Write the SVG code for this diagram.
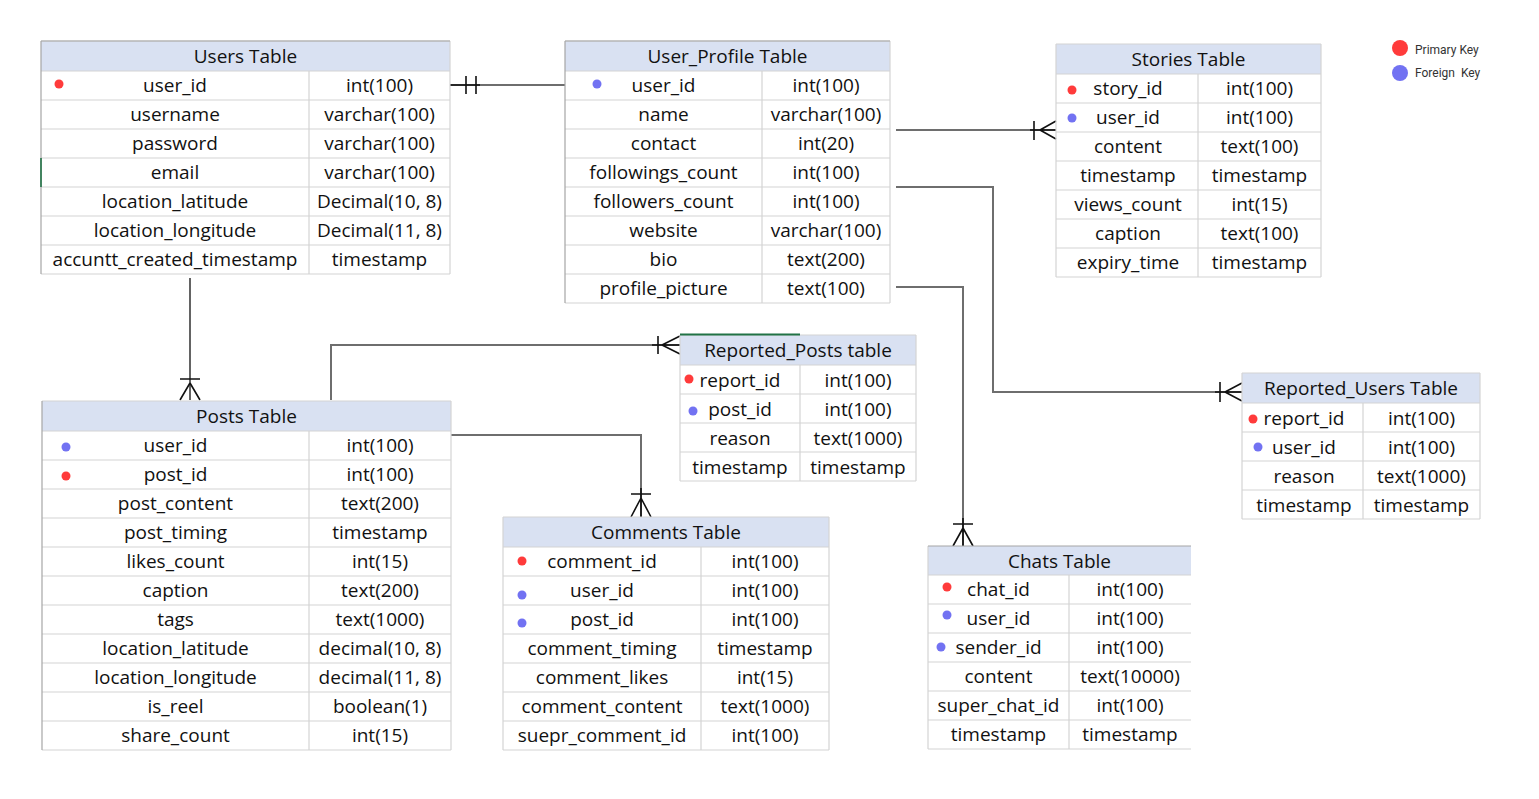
<svg xmlns="http://www.w3.org/2000/svg" width="1539" height="799" viewBox="0 0 1539 799">
<style>
.bg{fill:#ffffff}
.hd{fill:#D9E1F2}
.grid{stroke:#D4D4D4;stroke-width:1.2;fill:none}
.edge{stroke:#A6A6A6;stroke-width:1.2;fill:none}
.t{font-family:"Open Sans","Liberation Sans",sans-serif;font-size:19px;fill:#111;text-anchor:middle}
.h{font-family:"Open Sans","Liberation Sans",sans-serif;font-size:19px;fill:#111;text-anchor:middle}
.pk{fill:#FF3B3B}
.fk{fill:#7272F2}
.conn{stroke:#6E6E6E;stroke-width:2;fill:none}
.connd{stroke:#222;stroke-width:1.4;fill:none}
.mk{stroke:#111;stroke-width:1.6;fill:none}
.lg{font-family:Roboto,"Liberation Sans",sans-serif;font-size:12px;fill:#333}
</style>
<rect class="bg" x="0" y="0" width="1539" height="799"/>

<g id="connectors">
  <path class="conn" d="M450,85 H565"/>
  <path class="mk" d="M466,76 V94 M476,76 V94 M450,85 H480"/>
  <path class="conn" d="M896,130 H1056"/>
  <path class="mk" d="M1034,121 V140 M1040,130 L1056,121 M1040,130 L1056,139 M1030,130 H1056"/>
  <path class="conn" d="M896,187 H993 V392 H1242"/>
  <path class="mk" d="M1220,382 V402 M1225,392 L1242,383 M1225,392 L1242,401 M1215,392 H1242"/>
  <path class="conn" d="M896,287 H963 V546"/>
  <path class="mk" d="M953,524 H973 M963,528 L953,546 M963,528 L973,546 M963,518 V546"/>
  <path class="connd" d="M190,278 V400"/>
  <path class="mk" d="M180,379 H200 M190,383 L180,400 M190,383 L200,400"/>
  <path class="conn" d="M331,400 V345 H680"/>
  <path class="mk" d="M658,336 V354 M662,345 L680,336 M662,345 L680,354 M652,345 H680"/>
  <path class="conn" d="M451,435 H641 V517"/>
  <path class="mk" d="M631,494 H651 M641,498 L631,517 M641,498 L651,517 M641,488 V517"/>
</g>

<g id="users-table">
  <rect class="hd" x="41" y="41" width="409" height="30"/>
  <path class="grid" d="M41,41 H450 M41,71 H450 M41,100 H450 M41,129 H450 M41,158 H450 M41,187 H450 M41,216 H450 M41,245 H450 M41,274 H450 M309,71 V274 M450,41 V274"/>
  <path class="edge" d="M41,41 V274 M41,41 H450"/>
  <path d="M41,158 V187" stroke="#217346" stroke-width="1.6"/>
  <text class="h" x="245.5" y="63">Users Table</text>
  <circle class="pk" cx="59" cy="84" r="4.5"/>
  <text class="t" x="175" y="92">user_id</text><text class="t" x="379.5" y="92">int(100)</text>
  <text class="t" x="175" y="121">username</text><text class="t" x="379.5" y="121">varchar(100)</text>
  <text class="t" x="175" y="150">password</text><text class="t" x="379.5" y="150">varchar(100)</text>
  <text class="t" x="175" y="179">email</text><text class="t" x="379.5" y="179">varchar(100)</text>
  <text class="t" x="175" y="208">location_latitude</text><text class="t" x="379.5" y="208">Decimal(10, 8)</text>
  <text class="t" x="175" y="237">location_longitude</text><text class="t" x="379.5" y="237">Decimal(11, 8)</text>
  <text class="t" x="175" y="266">accuntt_created_timestamp</text><text class="t" x="379.5" y="266">timestamp</text>
</g>

<g id="user-profile-table">
  <rect class="hd" x="565" y="41" width="325" height="30"/>
  <path class="grid" d="M565,41 H890 M565,71 H890 M565,100 H890 M565,129 H890 M565,158 H890 M565,187 H890 M565,216 H890 M565,245 H890 M565,274 H890 M565,303 H890 M762,71 V303 M890,41 V303"/>
  <path class="edge" d="M565,41 V303 M565,41 H890"/>
  <text class="h" x="727.5" y="63">User_Profile Table</text>
  <circle class="fk" cx="597" cy="84" r="4.5"/>
  <text class="t" x="663.5" y="92">user_id</text><text class="t" x="826" y="92">int(100)</text>
  <text class="t" x="663.5" y="121">name</text><text class="t" x="826" y="121">varchar(100)</text>
  <text class="t" x="663.5" y="150">contact</text><text class="t" x="826" y="150">int(20)</text>
  <text class="t" x="663.5" y="179">followings_count</text><text class="t" x="826" y="179">int(100)</text>
  <text class="t" x="663.5" y="208">followers_count</text><text class="t" x="826" y="208">int(100)</text>
  <text class="t" x="663.5" y="237">website</text><text class="t" x="826" y="237">varchar(100)</text>
  <text class="t" x="663.5" y="266">bio</text><text class="t" x="826" y="266">text(200)</text>
  <text class="t" x="663.5" y="295">profile_picture</text><text class="t" x="826" y="295">text(100)</text>
</g>

<g id="stories-table">
  <rect class="hd" x="1056" y="44" width="265" height="30"/>
  <path class="grid" d="M1056,44 H1321 M1056,74 H1321 M1056,103 H1321 M1056,132 H1321 M1056,161 H1321 M1056,190 H1321 M1056,219 H1321 M1056,248 H1321 M1056,277 H1321 M1198,74 V277 M1321,44 V277 M1056,44 V277"/>
  <text class="h" x="1188.5" y="66">Stories Table</text>
  <circle class="pk" cx="1072" cy="90" r="4.5"/>
  <circle class="fk" cx="1072" cy="118" r="4.5"/>
  <text class="t" x="1128" y="95">story_id</text><text class="t" x="1259.5" y="95">int(100)</text>
  <text class="t" x="1128" y="124">user_id</text><text class="t" x="1259.5" y="124">int(100)</text>
  <text class="t" x="1128" y="153">content</text><text class="t" x="1259.5" y="153">text(100)</text>
  <text class="t" x="1128" y="182">timestamp</text><text class="t" x="1259.5" y="182">timestamp</text>
  <text class="t" x="1128" y="211">views_count</text><text class="t" x="1259.5" y="211">int(15)</text>
  <text class="t" x="1128" y="240">caption</text><text class="t" x="1259.5" y="240">text(100)</text>
  <text class="t" x="1128" y="269">expiry_time</text><text class="t" x="1259.5" y="269">timestamp</text>
</g>

<g id="legend">
  <circle class="pk" cx="1400" cy="48" r="8"/>
  <circle class="fk" cx="1400" cy="73" r="8"/>
  <text class="lg" x="1415" y="54">Primary Key</text>
  <text class="lg" x="1415" y="77" xml:space="preserve">Foreign  Key</text>
</g>

<g id="posts-table">
  <rect class="hd" x="42" y="401" width="409" height="30"/>
  <path class="grid" d="M42,401 H451 M42,431 H451 M42,460 H451 M42,489 H451 M42,518 H451 M42,547 H451 M42,576 H451 M42,605 H451 M42,634 H451 M42,663 H451 M42,692 H451 M42,721 H451 M42,750 H451 M309,431 V750 M451,401 V750"/>
  <path class="edge" d="M42,401 V750"/>
  <text class="h" x="246.5" y="423">Posts Table</text>
  <circle class="fk" cx="66" cy="447" r="4.5"/>
  <circle class="pk" cx="66" cy="476" r="4.5"/>
  <text class="t" x="175.5" y="452">user_id</text><text class="t" x="380" y="452">int(100)</text>
  <text class="t" x="175.5" y="481">post_id</text><text class="t" x="380" y="481">int(100)</text>
  <text class="t" x="175.5" y="510">post_content</text><text class="t" x="380" y="510">text(200)</text>
  <text class="t" x="175.5" y="539">post_timing</text><text class="t" x="380" y="539">timestamp</text>
  <text class="t" x="175.5" y="568">likes_count</text><text class="t" x="380" y="568">int(15)</text>
  <text class="t" x="175.5" y="597">caption</text><text class="t" x="380" y="597">text(200)</text>
  <text class="t" x="175.5" y="626">tags</text><text class="t" x="380" y="626">text(1000)</text>
  <text class="t" x="175.5" y="655">location_latitude</text><text class="t" x="380" y="655">decimal(10, 8)</text>
  <text class="t" x="175.5" y="684">location_longitude</text><text class="t" x="380" y="684">decimal(11, 8)</text>
  <text class="t" x="175.5" y="713">is_reel</text><text class="t" x="380" y="713">boolean(1)</text>
  <text class="t" x="175.5" y="742">share_count</text><text class="t" x="380" y="742">int(15)</text>
</g>

<g id="reported-posts-table">
  <rect class="hd" x="680" y="335" width="236" height="30"/>
  <path class="grid" d="M680,335 H916 M680,365 H916 M680,394 H916 M680,423 H916 M680,452 H916 M680,481 H916 M800,365 V481 M916,335 V481 M680,335 V481"/>
  <path d="M680,334.5 H800" stroke="#217346" stroke-width="1.8"/>
  <text class="h" x="798" y="357">Reported_Posts table</text>
  <circle class="pk" cx="689" cy="379" r="4.5"/>
  <circle class="fk" cx="693" cy="411" r="4.5"/>
  <text class="t" x="740" y="387">report_id</text><text class="t" x="858" y="387">int(100)</text>
  <text class="t" x="740" y="416">post_id</text><text class="t" x="858" y="416">int(100)</text>
  <text class="t" x="740" y="445">reason</text><text class="t" x="858" y="445">text(1000)</text>
  <text class="t" x="740" y="474">timestamp</text><text class="t" x="858" y="474">timestamp</text>
</g>

<g id="comments-table">
  <rect class="hd" x="503" y="517" width="326" height="30"/>
  <path class="grid" d="M503,517 H829 M503,547 H829 M503,576 H829 M503,605 H829 M503,634 H829 M503,663 H829 M503,692 H829 M503,721 H829 M503,750 H829 M701,547 V750 M829,517 V750 M503,517 V750"/>
  <text class="h" x="666" y="539">Comments Table</text>
  <circle class="pk" cx="522" cy="561" r="4.5"/>
  <circle class="fk" cx="522" cy="595" r="4.5"/>
  <circle class="fk" cx="522" cy="623" r="4.5"/>
  <text class="t" x="602" y="568">comment_id</text><text class="t" x="765" y="568">int(100)</text>
  <text class="t" x="602" y="597">user_id</text><text class="t" x="765" y="597">int(100)</text>
  <text class="t" x="602" y="626">post_id</text><text class="t" x="765" y="626">int(100)</text>
  <text class="t" x="602" y="655">comment_timing</text><text class="t" x="765" y="655">timestamp</text>
  <text class="t" x="602" y="684">comment_likes</text><text class="t" x="765" y="684">int(15)</text>
  <text class="t" x="602" y="713">comment_content</text><text class="t" x="765" y="713">text(1000)</text>
  <text class="t" x="602" y="742">suepr_comment_id</text><text class="t" x="765" y="742">int(100)</text>
</g>

<g id="chats-table">
  <rect class="hd" x="928" y="546" width="263" height="29"/>
  <path class="grid" d="M928,575 H1191 M928,604 H1191 M928,633 H1191 M928,662 H1191 M928,691 H1191 M928,720 H1191 M928,749 H1191 M1069,575 V749 M928,546 V749"/>
  <path class="edge" d="M928,546 H1191"/>
  <text class="h" x="1059.5" y="568">Chats Table</text>
  <circle class="pk" cx="947" cy="587" r="4.5"/>
  <circle class="fk" cx="947" cy="615" r="4.5"/>
  <circle class="fk" cx="941" cy="647" r="4.5"/>
  <text class="t" x="998.5" y="596">chat_id</text><text class="t" x="1130" y="596">int(100)</text>
  <text class="t" x="998.5" y="625">user_id</text><text class="t" x="1130" y="625">int(100)</text>
  <text class="t" x="998.5" y="654">sender_id</text><text class="t" x="1130" y="654">int(100)</text>
  <text class="t" x="998.5" y="683">content</text><text class="t" x="1130" y="683">text(10000)</text>
  <text class="t" x="998.5" y="712">super_chat_id</text><text class="t" x="1130" y="712">int(100)</text>
  <text class="t" x="998.5" y="741">timestamp</text><text class="t" x="1130" y="741">timestamp</text>
</g>

<g id="reported-users-table">
  <rect class="hd" x="1242" y="373" width="238" height="30"/>
  <path class="grid" d="M1242,373 H1480 M1242,403 H1480 M1242,432 H1480 M1242,461 H1480 M1242,490 H1480 M1242,519 H1480 M1363,403 V519 M1480,373 V519 M1242,373 V519"/>
  <text class="h" x="1361" y="395">Reported_Users Table</text>
  <circle class="pk" cx="1253" cy="419" r="4.5"/>
  <circle class="fk" cx="1258" cy="447" r="4.5"/>
  <text class="t" x="1304" y="425">report_id</text><text class="t" x="1421.5" y="425">int(100)</text>
  <text class="t" x="1304" y="454">user_id</text><text class="t" x="1421.5" y="454">int(100)</text>
  <text class="t" x="1304" y="483">reason</text><text class="t" x="1421.5" y="483">text(1000)</text>
  <text class="t" x="1304" y="512">timestamp</text><text class="t" x="1421.5" y="512">timestamp</text>
</g>
</svg>
